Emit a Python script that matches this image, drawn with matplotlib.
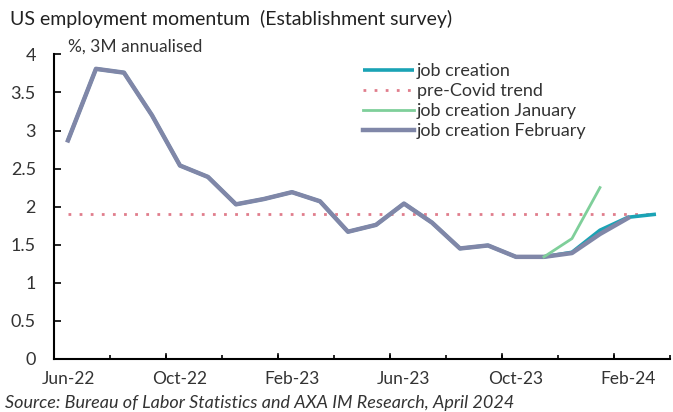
import numpy as np
import matplotlib.pyplot as plt

plt.rcParams['font.family'] = ['Lato', 'DejaVu Sans']

months = ["Jun-22", "Jul-22", "Aug-22", "Sep-22", "Oct-22", "Nov-22", "Dec-22",
          "Jan-23", "Feb-23", "Mar-23", "Apr-23", "May-23", "Jun-23", "Jul-23",
          "Aug-23", "Sep-23", "Oct-23", "Nov-23", "Dec-23", "Jan-24", "Feb-24",
          "Mar-24"]

job_creation = [2.87, 3.81, 3.76, 3.20, 2.54, 2.39, 2.03, 2.10, 2.19, 2.07, 1.67,
                1.76, 2.04, 1.79, 1.45, 1.49, 1.34, 1.34, 1.40, 1.69, 1.86, 1.90]
job_feb = [2.87, 3.81, 3.76, 3.20, 2.54, 2.39, 2.03, 2.10, 2.19, 2.07, 1.67,
           1.76, 2.04, 1.79, 1.45, 1.49, 1.34, 1.34, 1.39, 1.64, 1.85]
job_jan_months = ["Nov-23", "Dec-23", "Jan-24"]
job_jan = [1.34, 1.58, 2.25]
precovid_trend = 1.9

label_months = ["Jun-22", "Oct-22", "Feb-23", "Jun-23", "Oct-23", "Feb-24"]

x = np.arange(len(months))
pos = {m: i for i, m in enumerate(months)}

fig = plt.figure(figsize=(6.73, 4.12), dpi=100)
ax = fig.add_axes([0.0802, 0.129, 0.9153, 0.739])

l1, = ax.plot(x, job_creation, color='#1AA3B5', lw=2.6, solid_capstyle='butt', zorder=2)
l2, = ax.plot(x, [precovid_trend] * len(x), color='#E07D8C', lw=2,
              linestyle=(0, (1, 3)), zorder=1)
l3, = ax.plot([pos[m] for m in job_jan_months], job_jan, color='#7FCF9A', lw=2, zorder=4)
l4, = ax.plot(x[:len(job_feb)], job_feb, color='#8087A8', lw=3.2, zorder=3)

ax.set_xlim(-0.5, len(months) - 0.5)
ax.set_ylim(0, 4)
ax.set_yticks(np.arange(0, 4.01, 0.5))
ax.set_yticklabels(['0', '0.5', '1', '1.5', '2', '2.5', '3', '3.5', '4'])

ax.set_xticks([pos[m] for m in label_months])
ax.set_xticklabels(label_months)
ax.tick_params(axis='x', length=0, pad=9, labelsize=12.5, labelcolor='#333333')
ax.set_xticks(np.arange(-0.5, len(months), 2), minor=True)
ax.tick_params(axis='x', which='minor', direction='in', length=3, width=1.2)
for t in np.arange(3.5, len(months), 4):
    ax.plot([t, t], [0, 0.07], color='black', lw=1.2, clip_on=False, zorder=5)
ax.tick_params(axis='y', direction='in', length=5, width=1.2, labelsize=13,
               labelcolor='#333333', pad=13)

for s in ['top', 'right']:
    ax.spines[s].set_visible(False)
for s in ['left', 'bottom']:
    ax.spines[s].set_linewidth(1.5)

ax.legend([l1, l2, l3, l4],
          ['job creation', 'pre-Covid trend', 'job creation January', 'job creation February'],
          loc='upper left', bbox_to_anchor=(0.476, 1.025), frameon=False, fontsize=13,
          handlelength=2.8, handletextpad=0.15, labelspacing=0.22, labelcolor='#333333')

fig.text(0.015, 0.955, 'US employment momentum  (Establishment survey)', fontsize=14,
         va='center', ha='left', color='#222222')
fig.text(0.101, 0.886, '%, 3M annualised', fontsize=12.5, va='center', ha='left',
         color='#333333')
fig.text(0.008, 0.022, 'Source: Bureau of Labor Statistics and AXA IM Research, April 2024',
         fontsize=13, style='italic', va='center', ha='left', color='#333333')

fig.savefig('out.png', dpi=100)
